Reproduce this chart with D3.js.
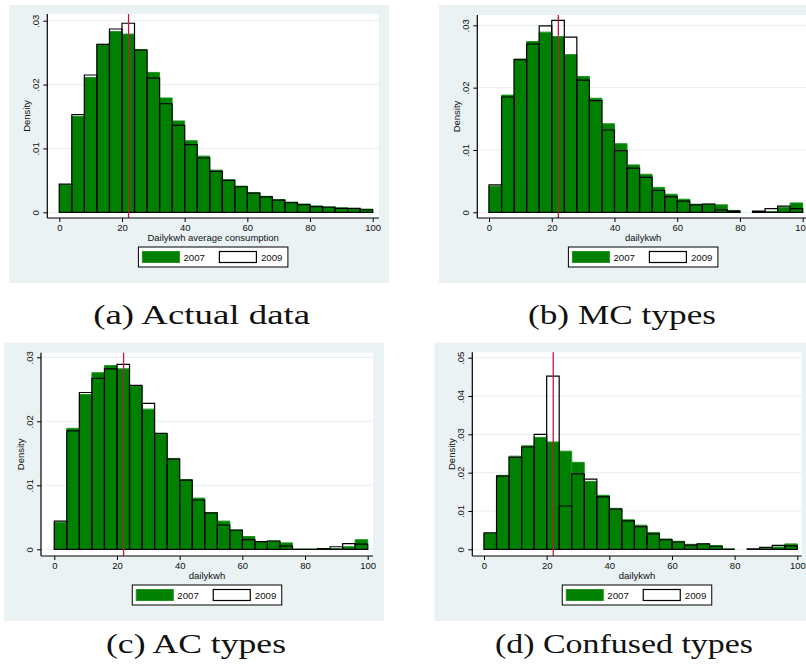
<!DOCTYPE html>
<html>
<head>
<meta charset="utf-8">
<script src="https://cdn.jsdelivr.net/npm/d3@7"></script>
<style>
  html, body { margin: 0; padding: 0; background: #ffffff; }
  svg { display: block; }
</style>
</head>
<body>
<svg id="chart" width="806" height="669"></svg>
<script>
// Histogram bins of daily kWh (left edges, width 4)
const binStart = [0, 4, 8, 12, 16, 20, 24, 28, 32, 36, 40, 44, 48, 52, 56, 60, 64, 68, 72, 76, 80, 84, 88, 92, 96];
const binWidth = 4;

// Densities per bin; null = empty bin (not drawn)
const actual2007 = [0.0043, 0.0150, 0.0211, 0.0263, 0.0283, 0.0279, 0.0255, 0.0219, 0.0179, 0.0143, 0.0112, 0.0088, 0.0066, 0.0051, 0.0041, 0.0031, 0.0025, 0.0020, 0.0016, 0.0013, 0.0010, 0.0008, 0.0007, 0.0006, 0.0005];
const actual2009 = [0.0044, 0.0153, 0.0215, 0.0263, 0.0287, 0.0296, 0.0254, 0.0210, 0.0170, 0.0136, 0.0106, 0.0085, 0.0064, 0.0050, 0.0040, 0.0030, 0.0024, 0.0019, 0.0015, 0.0012, 0.0009, 0.0008, 0.0006, 0.0006, 0.0004];

const mc2007 = [0.0042, 0.0188, 0.0246, 0.0274, 0.0289, 0.0282, 0.0253, 0.0218, 0.0183, 0.0142, 0.0110, 0.0076, 0.0061, 0.0040, 0.0029, 0.0021, 0.0013, 0.0013, 0.0012, 0.0003, null, 0, 0.0001, 0.0008, 0.0015];
const mc2009 = [0.0044, 0.0185, 0.0245, 0.0270, 0.0299, 0.0308, 0.0281, 0.0212, 0.0179, 0.0132, 0.0099, 0.0071, 0.0056, 0.0035, 0.0025, 0.0018, 0.0012, 0.0013, 0.0004, 0.0002, null, 0.0002, 0.0006, 0.0010, 0.0006];

const ac2007 = [0.0042, 0.0189, 0.0242, 0.0276, 0.0287, 0.0282, 0.0255, 0.0219, 0.0180, 0.0142, 0.0109, 0.0080, 0.0057, 0.0044, 0.0030, 0.0020, 0.0012, 0.0013, 0.0010, 0, 0, 0, 0.0001, 0.0004, 0.0015];
const ac2009 = [0.0044, 0.0185, 0.0245, 0.0267, 0.0282, 0.0289, 0.0256, 0.0228, 0.0181, 0.0141, 0.0108, 0.0077, 0.0057, 0.0038, 0.0030, 0.0015, 0.0012, 0.0013, 0.0005, 0, 0, 0.0001, 0.0004, 0.0009, 0.0008];

const confused2007 = [0.0042, 0.0193, 0.0243, 0.0270, 0.0292, 0.0280, 0.0256, 0.0227, 0.0177, 0.0141, 0.0107, 0.0077, 0.0063, 0.0044, 0.0027, 0.0021, 0.0013, 0.0014, 0.0010, 0.0001, null, 0, 0.0003, 0.0006, 0.0014];
const confused2009 = [0.0043, 0.0191, 0.0240, 0.0267, 0.0300, 0.0452, 0.0113, 0.0197, 0.0183, 0.0137, 0.0105, 0.0074, 0.0059, 0.0040, 0.0025, 0.0019, 0.0011, 0.0014, 0.0008, 0, null, 0.0001, 0.0005, 0.0010, 0.0009];

// Reference line (mean daily kWh)
const refLine = 22.1;

// Axis ticks and labels
const xTicks = [0, 20, 40, 60, 80, 100];
const yTicks03 = [0, 0.01, 0.02, 0.03];
const yTicks05 = [0, 0.01, 0.02, 0.03, 0.04, 0.05];
const yTitle = "Density";
const xTitles = ["Dailykwh average consumption", "dailykwh", "dailykwh", "dailykwh"];
const legendLabels = ["2007", "2009"];
const captions = ["(a) Actual data", "(b) MC types", "(c) AC types", "(d) Confused types"];

// Styling
const bgColor = "#eaf2f3";
const gridColor = "#e6eff1";
const green = "#008000";
const greenEdge = "#1f941f";
const redLine = "#c4183c";
const sansFont = "'Liberation Sans', Arial, sans-serif";
const serifFont = "'Liberation Serif', 'Times New Roman', serif";

// Panel geometry
const panels = [
  { d07: actual2007, d09: actual2009, yTicks: yTicks03, xTitle: xTitles[0], caption: captions[0],
    bg: [9, 5, 389, 283], plot: { left: 47.3, top: 14, right: 379, axis: 218 },
    xr: [59.3, 372.7], yr: [212.3, 20.7], cap: { x: 201.7, y: 324, w: 217 } },
  { d07: mc2007, d09: mc2009, yTicks: yTicks03, xTitle: xTitles[1], caption: captions[1],
    bg: [439, 5, 830, 283], plot: { left: 477.3, top: 15, right: 809, axis: 218 },
    xr: [489, 802.7], yr: [212.3, 25.3], cap: { x: 622, y: 324, w: 188 } },
  { d07: ac2007, d09: ac2009, yTicks: yTicks03, xTitle: xTitles[2], caption: captions[2],
    bg: [4, 342.7, 384, 621], plot: { left: 41, top: 352.7, right: 373, axis: 556 },
    xr: [54.3, 367.7], yr: [549.3, 357.3], cap: { x: 196, y: 653, w: 180 } },
  { d07: confused2007, d09: confused2009, yTicks: yTicks05, xTitle: xTitles[3], caption: captions[3],
    bg: [434.5, 342.7, 830, 621], plot: { left: 472.3, top: 352.3, right: 801.7, axis: 556 },
    xr: [484, 797.3], yr: [549.3, 357.7], cap: { x: 624, y: 653, w: 258 } }
];

const svg = d3.select("#chart");

const yFmt = d => d === 0 ? "0" : d3.format(".2f")(d).replace(/^0/, "");

function barPath(x, y, start, v) {
  const x0 = x(start), x1 = x(start + binWidth), yb = y(0), yt = y(v);
  return `M${x0},${yb}V${yt}H${x1}V${yb}Z`;
}

panels.forEach(p => {
  const g = svg.append("g");
  const x = d3.scaleLinear().domain([0, 100]).range(p.xr);
  const y = d3.scaleLinear().domain([0, d3.max(p.yTicks)]).range(p.yr);
  const P = p.plot;

  // Graph background and white plot region
  g.append("rect")
    .attr("x", p.bg[0]).attr("y", p.bg[1])
    .attr("width", p.bg[2] - p.bg[0]).attr("height", p.bg[3] - p.bg[1])
    .attr("fill", bgColor);
  g.append("rect")
    .attr("x", P.left).attr("y", P.top)
    .attr("width", P.right - P.left).attr("height", P.axis - P.top)
    .attr("fill", "#ffffff");

  // Horizontal grid lines
  g.selectAll(".grid").data(p.yTicks).join("line")
    .attr("x1", P.left).attr("x2", P.right)
    .attr("y1", d => y(d)).attr("y2", d => y(d))
    .attr("stroke", gridColor).attr("stroke-width", 1);

  // 2007 histogram (filled green)
  const bars07 = binStart.map((s, i) => ({ s, v: p.d07[i] })).filter(d => d.v !== null);
  g.selectAll(".b07").data(bars07).join("path")
    .attr("d", d => barPath(x, y, d.s, d.v))
    .attr("fill", green).attr("stroke", greenEdge).attr("stroke-width", 1);

  // 2009 histogram (outline only)
  const bars09 = binStart.map((s, i) => ({ s, v: p.d09[i] })).filter(d => d.v !== null);
  g.selectAll(".b09").data(bars09).join("path")
    .attr("d", d => barPath(x, y, d.s, d.v))
    .attr("fill", "none").attr("stroke", "#000").attr("stroke-width", 1.2);

  // Vertical reference line
  g.append("line")
    .attr("x1", x(refLine)).attr("x2", x(refLine))
    .attr("y1", P.top).attr("y2", P.axis)
    .attr("stroke", redLine).attr("stroke-width", 1.3);

  // X axis
  const xa = g.append("g").attr("transform", `translate(0,${P.axis})`)
    .call(d3.axisBottom(x).tickValues(xTicks).tickSize(4).tickPadding(2).tickFormat(d3.format("d")));
  xa.select(".domain").remove();
  xa.selectAll("line").attr("stroke", "#000");
  xa.selectAll("text").attr("font-family", sansFont).attr("font-size", 9.5).attr("fill", "#111");
  g.append("line")
    .attr("x1", P.left).attr("x2", P.right)
    .attr("y1", P.axis).attr("y2", P.axis)
    .attr("stroke", "#000").attr("stroke-width", 1.2);

  // Y axis
  const ya = g.append("g").attr("transform", `translate(${P.left},0)`)
    .call(d3.axisLeft(y).tickValues(p.yTicks).tickSize(4).tickFormat(yFmt));
  ya.select(".domain").remove();
  ya.selectAll("line").attr("stroke", "#000");
  ya.selectAll("text")
    .attr("font-family", sansFont).attr("font-size", 9.5).attr("fill", "#111")
    .attr("text-anchor", "middle").attr("dy", null)
    .attr("x", null)
    .attr("transform", "translate(-8,0) rotate(-90)");
  g.append("line")
    .attr("x1", P.left).attr("x2", P.left)
    .attr("y1", P.top).attr("y2", P.axis)
    .attr("stroke", "#000").attr("stroke-width", 1.2);

  // Axis titles
  const cx = (P.left + P.right) / 2;
  g.append("text")
    .attr("x", cx).attr("y", P.axis + 23)
    .attr("text-anchor", "middle")
    .attr("font-family", sansFont).attr("font-size", 9.5).attr("fill", "#111")
    .text(p.xTitle);
  g.append("text")
    .attr("transform", `translate(${P.left - 17.3},${(P.top + P.axis) / 2}) rotate(-90)`)
    .attr("text-anchor", "middle")
    .attr("font-family", sansFont).attr("font-size", 9.5).attr("fill", "#111")
    .text(yTitle);

  // Legend
  const lw = 149.5, lh = 20;
  const lx = cx - lw / 2, ly = P.axis + 29;
  const lg = g.append("g").attr("transform", `translate(${lx},${ly})`);
  lg.append("rect").attr("width", lw).attr("height", lh)
    .attr("fill", "#fff").attr("stroke", "#000").attr("stroke-width", 1);
  lg.append("rect").attr("x", 4).attr("y", 4.5).attr("width", 37).attr("height", 11)
    .attr("fill", green).attr("stroke", greenEdge).attr("stroke-width", 1);
  lg.append("rect").attr("x", 81).attr("y", 4.5).attr("width", 37).attr("height", 11)
    .attr("fill", "#fff").attr("stroke", "#000").attr("stroke-width", 1.2);
  lg.selectAll(".lt").data(legendLabels).join("text")
    .attr("x", (d, i) => i === 0 ? 45 : 122.5).attr("y", 14.3)
    .attr("font-family", sansFont).attr("font-size", 9.7).attr("fill", "#111")
    .text(d => d);

  // Sub-figure caption
  svg.append("text")
    .attr("x", p.cap.x).attr("y", p.cap.y)
    .attr("text-anchor", "middle")
    .attr("font-family", serifFont).attr("font-size", 28).attr("fill", "#111")
    .attr("textLength", p.cap.w).attr("lengthAdjust", "spacingAndGlyphs")
    .text(p.caption);
});
</script>
</body>
</html>
